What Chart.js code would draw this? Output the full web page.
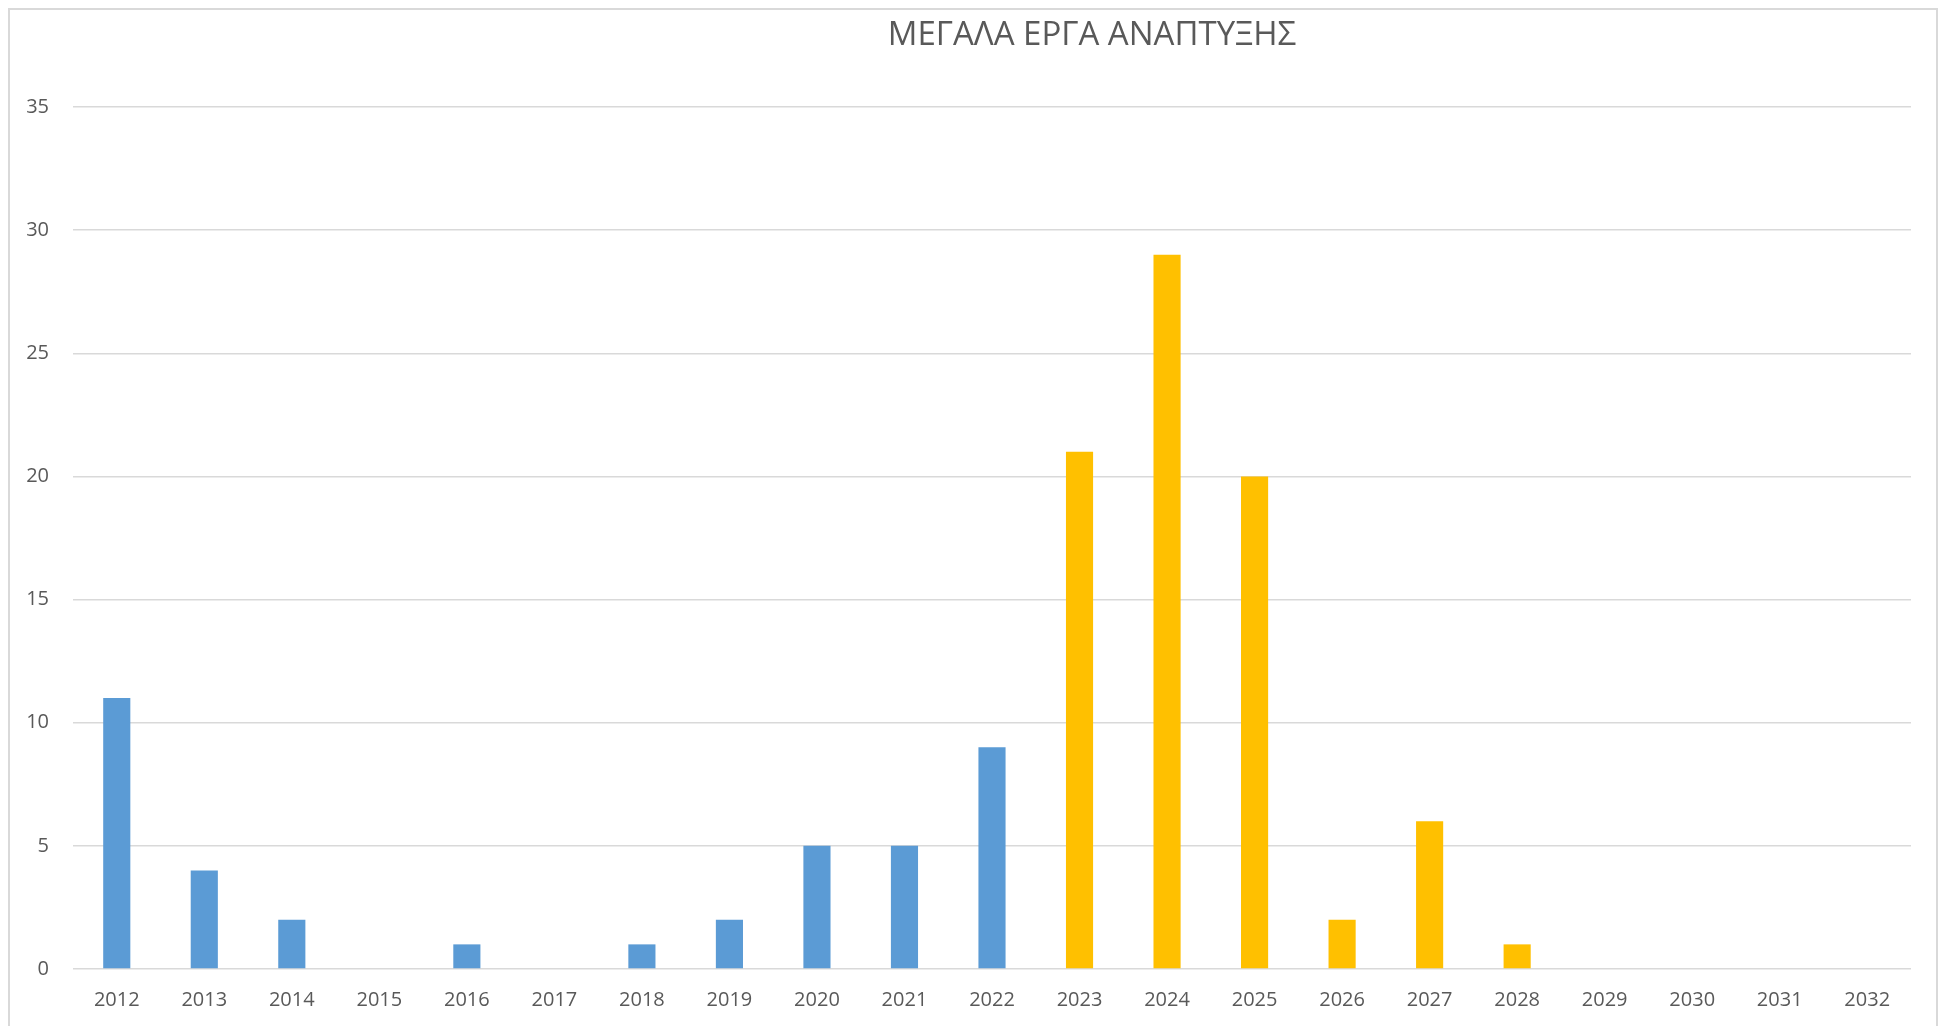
<!DOCTYPE html>
<html>
<head>
<meta charset="utf-8">
<script src="https://cdn.jsdelivr.net/npm/chart.js@4/dist/chart.umd.min.js"></script>
<style>
  html, body { margin: 0; padding: 0; background: #fff; }
  #frame {
    position: absolute; left: 8px; top: 8px; width: 1930px; height: 1040px;
    border: 2px solid #d9d9d9; box-sizing: border-box;
  }
  #wrap { position: absolute; left: 0; top: 0; width: 1951px; height: 1026px; }
</style>
</head>
<body>
<div id="frame"></div>
<div id="wrap"><canvas id="chart" width="1951" height="1026"></canvas></div>
<script>
const title = 'ΜΕΓΑΛΑ ΕΡΓΑ ΑΝΑΠΤΥΞΗΣ';
const years = ['2012', '2013', '2014', '2015', '2016', '2017', '2018', '2019', '2020', '2021', '2022',
  '2023', '2024', '2025', '2026', '2027', '2028', '2029', '2030', '2031', '2032'];
// finished projects (blue) and scheduled ones (yellow)
const completed = [11, 4, 2, 0, 1, 0, 1, 2, 5, 5, 9, null, null, null, null, null, null, null, null, null, null];
const planned = [null, null, null, null, null, null, null, null, null, null, null, 21, 29, 20, 2, 6, 1, 0, 0, 0, 0];
const yTicks = [0, 5, 10, 15, 20, 25, 30, 35];

const textColor = '#595959';
const gridColor = '#d9d9d9';

// title sits right of centre in the original, so draw it ourselves
const titlePlugin = {
  id: 'offTitle',
  afterDraw(chart) {
    const ctx = chart.ctx;
    ctx.save();
    ctx.font = '33px "Open Sans"';
    ctx.fillStyle = textColor;
    ctx.textAlign = 'center';
    ctx.textBaseline = 'middle';
    ctx.fillText(title, 1092, 36);
    ctx.restore();
  }
};

new Chart(document.getElementById('chart'), {
  type: 'bar',
  data: {
    labels: years,
    datasets: [
      { label: 'completed', data: completed, backgroundColor: '#5b9bd5' },
      { label: 'planned', data: planned, backgroundColor: '#ffc000' }
    ]
  },
  options: {
    responsive: false,
    animation: false,
    layout: { padding: { left: 0, right: 40, top: 107, bottom: 0 } },
    plugins: { legend: { display: false }, title: { display: false }, tooltip: { enabled: false } },
    datasets: { bar: { categoryPercentage: 1, barPercentage: 0.31 } },
    scales: {
      x: {
        stacked: true,
        grid: { display: false, drawTicks: false },
        border: { display: false },
        ticks: { color: textColor, font: { family: 'Open Sans', size: 20 }, padding: 19, maxRotation: 0 },
        afterFit(scale) { scale.height = 57; }
      },
      y: {
        stacked: true,
        min: 0, max: 35,
        afterBuildTicks(scale) { scale.ticks = yTicks.map(v => ({ value: v })); },
        grid: { color: gridColor, lineWidth: 1.5, drawTicks: false },
        border: { display: false },
        ticks: { color: textColor, font: { family: 'Open Sans', size: 20 }, padding: 24 },
        afterFit(scale) { scale.width = 73; }
      }
    }
  },
  plugins: [titlePlugin]
});
</script>
</body>
</html>
